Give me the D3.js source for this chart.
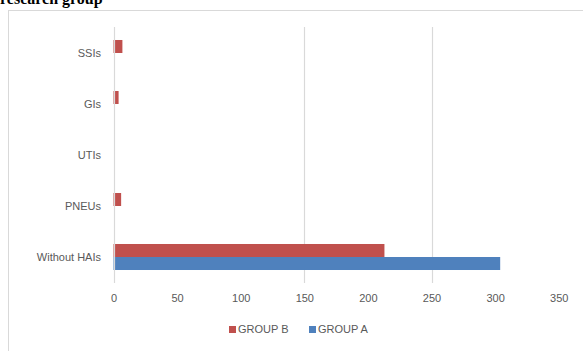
<!DOCTYPE html>
<meta charset="utf-8" />
<script src="https://d3js.org/d3.v7.min.js"></script>
<style>
  body { margin: 0; background: #fff; }
  text { font-family: "Liberation Sans", Arial, sans-serif; }
</style>
<svg id="chart" width="583" height="351"></svg>
<script>
  // data
  var categories = ["SSIs", "GIs", "UTIs", "PNEUs", "Without HAIs"];
  var groups = ["GROUP B", "GROUP A"];
  var groupB = [7, 4, 0, 6, 213];
  var groupA = [0, 0, 0, 0, 304];
  var xTicks = [0, 50, 100, 150, 200, 250, 300, 350];
  var gridTicks = [150, 250]; // only these lines show in the picture

  var colors = { "GROUP B": "#C0504D", "GROUP A": "#4F81BD" };

  var svg = d3.select("#chart");

  var rows = categories.map(function(c, i) {
    return { cat: c, "GROUP B": groupB[i], "GROUP A": groupA[i] };
  });

  // clipped title from the page above
  svg.append("text")
    .attr("x", 0)
    .attr("y", 4)
    .style("font-family", "'Liberation Serif', 'Times New Roman', serif")
    .style("font-weight", "bold")
    .style("font-size", "16px")
    .text("research group");

  // chart frame (runs off the page right and bottom)
  svg.append("rect")
    .attr("x", 8.5).attr("y", 10.5)
    .attr("width", 620).attr("height", 400)
    .attr("fill", "none")
    .attr("stroke", "#D9D9D9");

  var x = d3.scaleLinear().domain([0, 350]).range([113.5, 558.7]);
  var y = d3.scaleBand().domain(categories).range([27.5, 282.5])
    .paddingInner(0.49).paddingOuter(0.245);
  var yg = d3.scaleBand().domain(groups).range([0, y.bandwidth()]);

  // gridlines
  svg.append("g").selectAll("line")
    .data(gridTicks)
    .enter().append("line")
    .attr("x1", function(d) { return Math.round(x(d)) + 0.5; })
    .attr("x2", function(d) { return Math.round(x(d)) + 0.5; })
    .attr("y1", 27).attr("y2", 283)
    .attr("stroke", "#D9D9D9")
    .attr("stroke-width", 1.2);

  // bars
  var rowG = svg.append("g").selectAll("g")
    .data(rows)
    .enter().append("g")
    .attr("transform", function(d) { return "translate(0," + y(d.cat) + ")"; });

  rowG.selectAll("rect")
    .data(function(d) { return groups.map(function(g) { return { g: g, v: d[g] }; }); })
    .enter().append("rect")
    .attr("x", x(0))
    .attr("y", function(d) { return yg(d.g); })
    .attr("width", function(d) { return x(d.v) - x(0); })
    .attr("height", yg.bandwidth())
    .attr("fill", function(d) { return colors[d.g]; });

  // value axis line at 0
  svg.append("line")
    .attr("x1", Math.round(x(0)) + 0.5).attr("x2", Math.round(x(0)) + 0.5)
    .attr("y1", 27).attr("y2", 283)
    .attr("stroke", "#D9D9D9")
    .attr("stroke-width", 1.2);

  // x tick labels
  var xAxis = d3.axisBottom(x).tickValues(xTicks).tickSize(0).tickPadding(0);
  var xa = svg.append("g").attr("transform", "translate(0,294)").call(xAxis);
  xa.select(".domain").remove();
  xa.selectAll("text")
    .attr("dy", "0.71em")
    .style("font-family", "'Liberation Sans', Arial, sans-serif")
    .style("font-size", "11px")
    .attr("fill", "#595959");

  // category labels
  var yAxis = d3.axisLeft(y).tickSize(0).tickPadding(0);
  var ya = svg.append("g").attr("transform", "translate(101,0)").call(yAxis);
  ya.select(".domain").remove();
  ya.selectAll("text")
    .style("font-family", "'Liberation Sans', Arial, sans-serif")
    .style("font-size", "11px")
    .attr("fill", "#595959");

  // legend
  var legendX = [229, 309];
  var leg = svg.append("g").selectAll("g")
    .data(groups)
    .enter().append("g")
    .attr("transform", function(d, i) { return "translate(" + legendX[i] + ",326)"; });
  leg.append("rect")
    .attr("width", 7).attr("height", 7)
    .attr("fill", function(d) { return colors[d]; });
  leg.append("text")
    .attr("x", 9).attr("y", 3.5)
    .attr("dy", "0.35em")
    .style("font-size", "11px")
    .attr("fill", "#595959")
    .text(function(d) { return d; });
</script>
